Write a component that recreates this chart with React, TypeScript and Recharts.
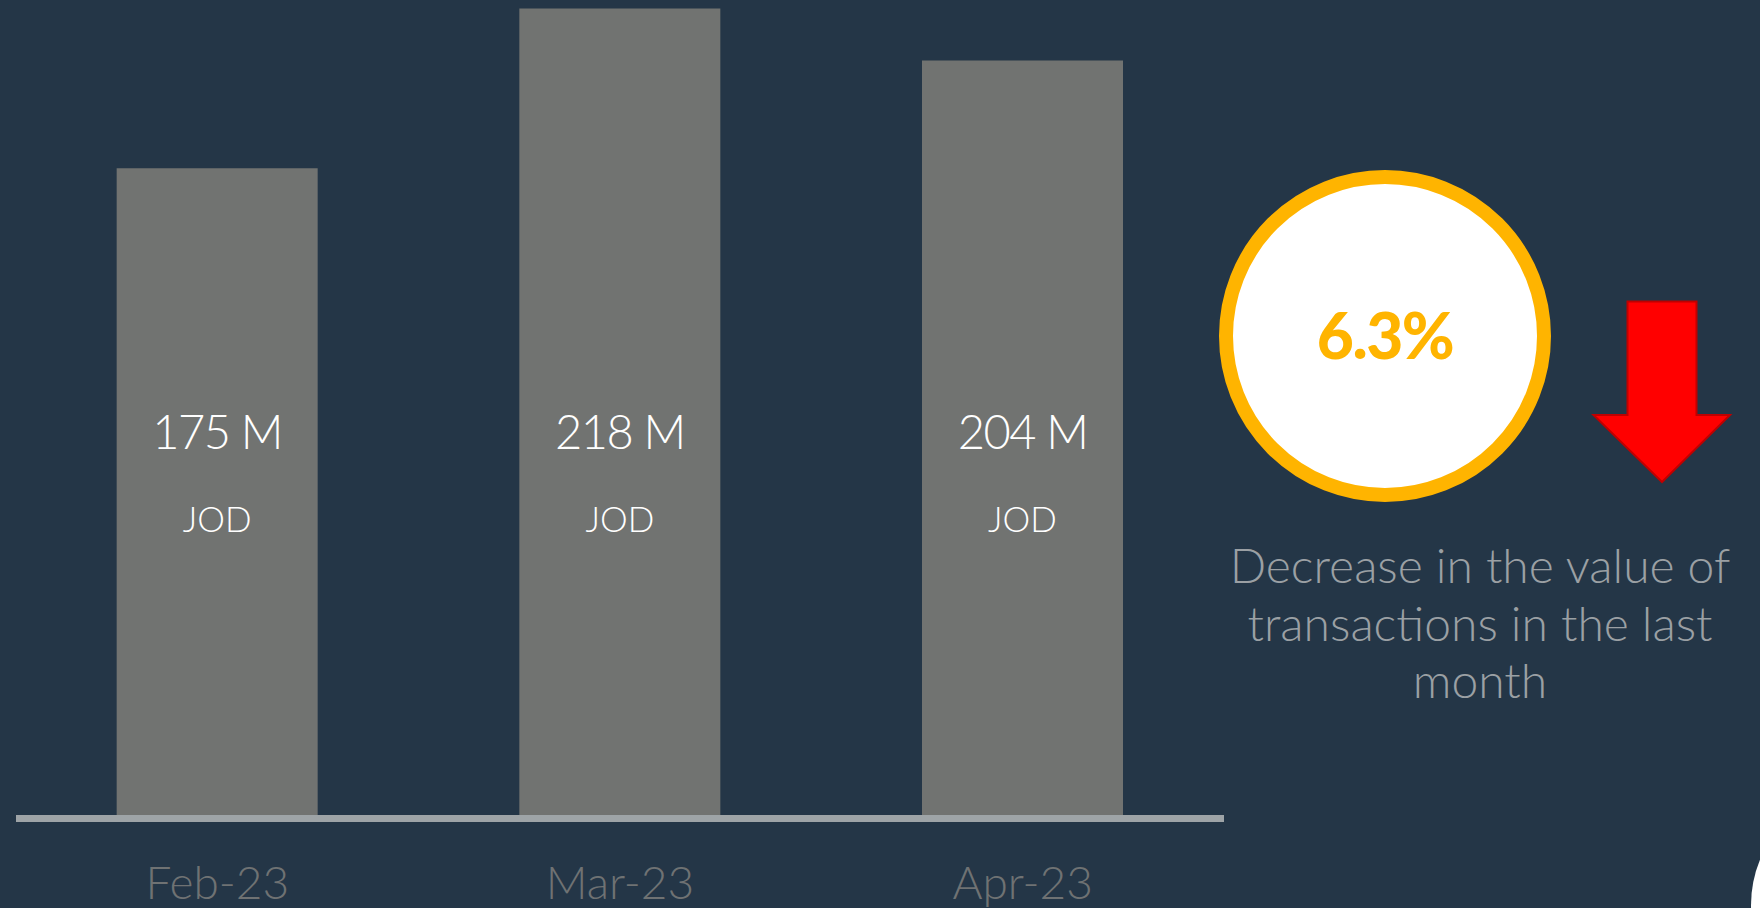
import React from 'react';
import { BarChart, Bar, XAxis, YAxis, LabelList } from 'recharts';

const months: string[] = ['Feb-23', 'Mar-23', 'Apr-23'];
const values: number[] = [175, 218, 204];
const valueSuffix = ' M';
const unitLabel = 'JOD';
const changeText = '6.3%';
const descLines: string[] = ['Decrease in the value of', 'transactions in the last', 'month'];

const data = months.map((m, i) => ({ month: m, value: values[i] }));

const BG = '#243647';
const FONT = 'Lato, "Open Sans", sans-serif';

const ValueLabel = (props: any) => {
  const { x, y, width, height, value } = props;
  const cx = Number(x) + Number(width) / 2;
  const bottom = Number(y) + Number(height);
  const ly = bottom - 388;
  return (
    <g>
      <text x={cx} y={ly} textAnchor="middle" dominantBaseline="central" fill="#ffffff"
        fontFamily={FONT} fontWeight={300} fontSize={47} letterSpacing={-1.5}>
        {`${value}${valueSuffix}`}
      </text>
      <text x={cx} y={ly + 87} textAnchor="middle" dominantBaseline="central" fill="#ffffff"
        fontFamily={FONT} fontWeight={300} fontSize={35}>
        {unitLabel}
      </text>
    </g>
  );
};

const MonthTick = (props: any) => {
  const { x, y, payload } = props;
  return (
    <text x={x} y={Number(y) + 80.5} textAnchor="middle" fill="#6f7273"
      fontFamily={FONT} fontWeight={300} fontSize={46}>
      {payload.value}
    </text>
  );
};

export default function App() {
  return (
    <div style={{ position: 'absolute', left: 0, top: 0, width: 1760, height: 908, background: BG, overflow: 'hidden' }}>
      <BarChart width={1760} height={908} data={data}
        margin={{ top: 8.5, right: 536, bottom: 29.5, left: 16 }}
        barCategoryGap="25%">
        <YAxis hide domain={[0, 218]} />
        <Bar dataKey="value" fill="#717371" isAnimationActive={false}>
          <LabelList dataKey="value" content={<ValueLabel />} />
        </Bar>
        <XAxis dataKey="month" height={60} tickLine={false} tickSize={0} tickMargin={0}
          axisLine={{ stroke: '#9ea4a7', strokeWidth: 7 }} tick={<MonthTick />} />
      </BarChart>
      <svg width={1760} height={908} style={{ position: 'absolute', left: 0, top: 0, pointerEvents: 'none' }}>
        <circle cx={1385} cy={336} r={159} fill="#ffffff" stroke="#FFB400" strokeWidth={14} />
        <text x={1385} y={334} textAnchor="middle" dominantBaseline="central" fill="#FFB400"
          fontFamily={FONT} fontWeight={900} fontSize={64} letterSpacing={-1.5}>
          {changeText}
        </text>
        <polygon points="1627.5,301.5 1696.5,301.5 1696.5,415 1730,415 1662,482 1593.5,415 1627.5,415"
          fill="#FF0000" stroke="#C00000" strokeWidth={2} />
        {descLines.map((t, i) => (
          <text key={i} x={1480} y={583 + i * 57.5} textAnchor="middle" fill="#9ba0a4"
            fontFamily={FONT} fontWeight={300} fontSize={48}>
            {t}
          </text>
        ))}
        <circle cx={1869} cy={905} r={118} fill="#ffffff" />
      </svg>
    </div>
  );
}
